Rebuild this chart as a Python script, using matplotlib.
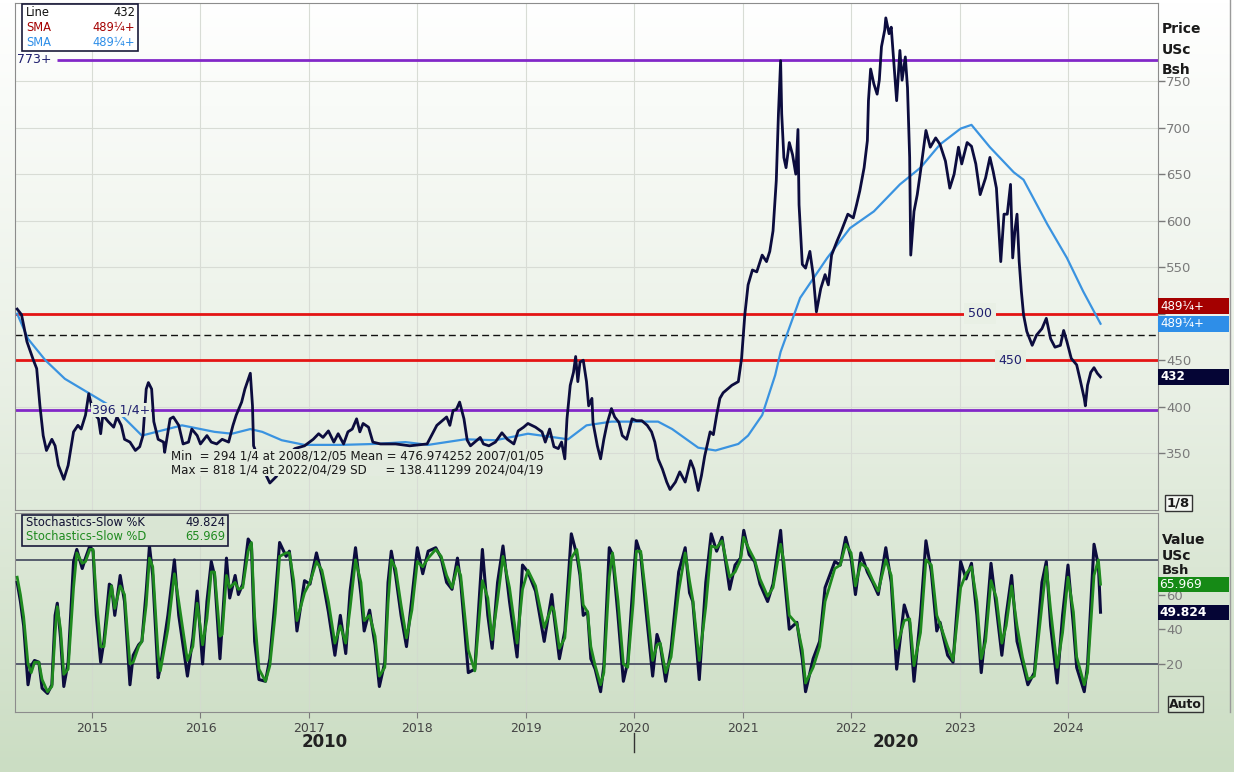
import numpy as np
import matplotlib.pyplot as plt
from matplotlib.colors import LinearSegmentedColormap
from matplotlib.patches import Rectangle
from matplotlib.lines import Line2D
import matplotlib.transforms as mtransforms

plt.rcParams['font.family'] = ['DejaVu Sans']

# %% data (decimal years)
price_dates = [2014.31, 2014.35, 2014.40, 2014.46, 2014.49, 2014.52, 2014.55, 2014.58, 2014.63, 2014.66,
               2014.69, 2014.74, 2014.78, 2014.83, 2014.87, 2014.90, 2014.94, 2014.97, 2015.01, 2015.06,
               2015.08, 2015.10, 2015.15, 2015.20, 2015.23, 2015.27, 2015.30, 2015.35, 2015.40, 2015.44,
               2015.47, 2015.50, 2015.52, 2015.55, 2015.57, 2015.61, 2015.66, 2015.67, 2015.72, 2015.75,
               2015.80, 2015.84, 2015.89, 2015.92, 2015.97, 2016.00, 2016.06, 2016.10, 2016.15, 2016.20,
               2016.26, 2016.30, 2016.33, 2016.38, 2016.41, 2016.46, 2016.48, 2016.49, 2016.57, 2016.64,
               2016.70, 2016.78, 2016.87, 2016.96, 2017.04, 2017.09, 2017.13, 2017.18, 2017.23, 2017.27,
               2017.32, 2017.36, 2017.40, 2017.44, 2017.47, 2017.50, 2017.55, 2017.59, 2017.66, 2017.80,
               2017.93, 2018.09, 2018.13, 2018.18, 2018.23, 2018.27, 2018.30, 2018.33, 2018.36, 2018.39,
               2018.43, 2018.46, 2018.49, 2018.53, 2018.58, 2018.61, 2018.66, 2018.72, 2018.78, 2018.83,
               2018.89, 2018.93, 2018.98, 2019.02, 2019.09, 2019.15, 2019.18, 2019.22, 2019.26, 2019.30,
               2019.33, 2019.36, 2019.38, 2019.41, 2019.44, 2019.46, 2019.48, 2019.50, 2019.53, 2019.56,
               2019.58, 2019.61, 2019.62, 2019.66, 2019.69, 2019.72, 2019.75, 2019.79, 2019.82, 2019.86,
               2019.89, 2019.93, 2019.98, 2020.02, 2020.07, 2020.12, 2020.16, 2020.19, 2020.22, 2020.26,
               2020.30, 2020.33, 2020.38, 2020.42, 2020.47, 2020.52, 2020.55, 2020.59, 2020.62, 2020.65,
               2020.70, 2020.73, 2020.76, 2020.79, 2020.82, 2020.90, 2020.96, 2020.99, 2021.02, 2021.05,
               2021.09, 2021.13, 2021.18, 2021.22, 2021.25, 2021.28, 2021.31, 2021.33, 2021.35, 2021.36,
               2021.38, 2021.40, 2021.43, 2021.46, 2021.49, 2021.51, 2021.52, 2021.55, 2021.58, 2021.62,
               2021.65, 2021.68, 2021.72, 2021.76, 2021.79, 2021.82, 2021.87, 2021.91, 2021.97, 2022.02,
               2022.05, 2022.08, 2022.12, 2022.15, 2022.16, 2022.18, 2022.21, 2022.24, 2022.26, 2022.28,
               2022.31, 2022.32, 2022.35, 2022.37, 2022.39, 2022.42, 2022.45, 2022.47, 2022.50, 2022.52,
               2022.54, 2022.55, 2022.58, 2022.61, 2022.64, 2022.67, 2022.69, 2022.73, 2022.78, 2022.82,
               2022.87, 2022.91, 2022.95, 2022.99, 2023.02, 2023.07, 2023.11, 2023.15, 2023.19, 2023.24,
               2023.28, 2023.31, 2023.34, 2023.38, 2023.41, 2023.44, 2023.47, 2023.49, 2023.51, 2023.53,
               2023.55, 2023.57, 2023.59, 2023.62, 2023.67, 2023.71, 2023.76, 2023.80, 2023.84, 2023.88,
               2023.93, 2023.96, 2023.99, 2024.03, 2024.08, 2024.11, 2024.15, 2024.16, 2024.18, 2024.21,
               2024.24, 2024.27, 2024.30]
price_vals = [505, 499, 470, 450, 441, 401, 369, 353, 365, 358,
              337, 322, 337, 373, 380, 376, 391, 414, 394, 387,
              371, 391, 384, 378, 389, 380, 365, 362, 353, 357,
              369, 419, 426, 419, 384, 365, 362, 351, 387, 389,
              380, 360, 362, 376, 369, 360, 369, 362, 360, 365,
              362, 380, 391, 405, 419, 436, 401, 358, 335, 318,
              325, 345, 355, 358, 365, 371, 367, 374, 362, 371,
              360, 373, 376, 387, 373, 382, 378, 362, 360, 360,
              358, 360, 369, 380, 385, 389, 380, 396, 397, 405,
              387, 364, 358, 362, 367, 360, 358, 362, 372, 365,
              360, 374, 378, 382, 378, 373, 362, 376, 357, 355,
              362, 344, 387, 423, 437, 454, 427, 448, 450, 427,
              401, 409, 383, 358, 344, 365, 382, 398, 389, 383,
              369, 365, 387, 385, 385, 380, 373, 362, 344, 333,
              319, 311, 319, 330, 319, 342, 333, 310, 326, 347,
              373, 370, 391, 409, 415, 423, 427, 452, 499, 531,
              547, 545, 563, 556, 567, 589, 643, 715, 772, 715,
              668, 657, 684, 671, 650, 698, 617, 553, 549, 567,
              542, 502, 527, 542, 531, 563, 578, 589, 607, 603,
              617, 632, 657, 686, 729, 763, 747, 736, 751, 787,
              805, 818, 801, 808, 776, 729, 783, 751, 776, 743,
              668, 563, 610, 628, 653, 679, 697, 679, 689, 682,
              664, 635, 650, 679, 661, 684, 680, 661, 628, 646,
              668, 653, 635, 556, 607, 607, 639, 560, 589, 607,
              556, 524, 499, 481, 466, 477, 484, 495, 473, 464,
              466, 482, 470, 452, 445, 430, 409, 401, 423, 437,
              442, 436, 432]

sma_dates = [2014.31, 2014.41, 2014.57, 2014.75, 2014.98, 2015.21, 2015.46, 2015.83, 2016.13, 2016.29,
             2016.46, 2016.57, 2016.75, 2016.96, 2017.30, 2017.61, 2017.89, 2018.10, 2018.44, 2018.72,
             2019.02, 2019.27, 2019.39, 2019.56, 2019.79, 2020.22, 2020.35, 2020.59, 2020.75, 2020.96,
             2021.05, 2021.18, 2021.30, 2021.35, 2021.53, 2021.78, 2021.99, 2022.21, 2022.45, 2022.64,
             2022.82, 2023.01, 2023.11, 2023.28, 2023.50, 2023.59, 2023.81, 2023.99, 2024.14, 2024.30]
sma_vals = [500, 473, 450, 430, 414, 398, 369, 380, 373, 371,
            376, 373, 364, 359, 359, 360, 362, 359, 365, 364,
            371, 367, 365, 380, 384, 384, 376, 356, 353, 360,
            369, 391, 434, 459, 517, 560, 592, 610, 639, 657,
            682, 699, 703, 679, 652, 644, 596, 560, 524, 489.25]

stoch_dates = [2014.31, 2014.34, 2014.37, 2014.41, 2014.44, 2014.47, 2014.51, 2014.54, 2014.59, 2014.63,
               2014.66, 2014.68, 2014.71, 2014.74, 2014.78, 2014.83, 2014.86, 2014.91, 2014.94, 2014.98,
               2015.01, 2015.04, 2015.08, 2015.11, 2015.16, 2015.18, 2015.21, 2015.26, 2015.30, 2015.35,
               2015.38, 2015.43, 2015.46, 2015.50, 2015.53, 2015.56, 2015.61, 2015.63, 2015.70, 2015.76,
               2015.80, 2015.88, 2015.93, 2015.97, 2016.02, 2016.06, 2016.10, 2016.13, 2016.18, 2016.20,
               2016.24, 2016.27, 2016.32, 2016.35, 2016.39, 2016.44, 2016.47, 2016.50, 2016.54, 2016.60,
               2016.64, 2016.69, 2016.73, 2016.79, 2016.82, 2016.86, 2016.89, 2016.96, 2017.01, 2017.07,
               2017.12, 2017.18, 2017.24, 2017.29, 2017.34, 2017.38, 2017.43, 2017.48, 2017.51, 2017.56,
               2017.61, 2017.65, 2017.70, 2017.73, 2017.76, 2017.80, 2017.85, 2017.90, 2017.95, 2018.00,
               2018.05, 2018.10, 2018.17, 2018.22, 2018.27, 2018.32, 2018.37, 2018.40, 2018.47, 2018.53,
               2018.60, 2018.65, 2018.69, 2018.74, 2018.79, 2018.85, 2018.92, 2018.97, 2019.02, 2019.09,
               2019.17, 2019.24, 2019.26, 2019.31, 2019.36, 2019.42, 2019.47, 2019.50, 2019.53, 2019.57,
               2019.60, 2019.64, 2019.69, 2019.72, 2019.77, 2019.80, 2019.85, 2019.90, 2019.94, 2019.99,
               2020.02, 2020.06, 2020.11, 2020.17, 2020.21, 2020.24, 2020.29, 2020.34, 2020.41, 2020.47,
               2020.51, 2020.54, 2020.60, 2020.66, 2020.71, 2020.76, 2020.81, 2020.88, 2020.93, 2020.98,
               2021.01, 2021.06, 2021.11, 2021.16, 2021.23, 2021.28, 2021.35, 2021.38, 2021.43, 2021.50,
               2021.55, 2021.58, 2021.65, 2021.71, 2021.76, 2021.85, 2021.90, 2021.95, 2022.00, 2022.04,
               2022.09, 2022.15, 2022.20, 2022.25, 2022.32, 2022.37, 2022.42, 2022.49, 2022.54, 2022.58,
               2022.64, 2022.69, 2022.74, 2022.79, 2022.82, 2022.89, 2022.94, 2023.01, 2023.06, 2023.11,
               2023.16, 2023.20, 2023.24, 2023.29, 2023.34, 2023.39, 2023.43, 2023.48, 2023.53, 2023.58,
               2023.63, 2023.69, 2023.76, 2023.80, 2023.84, 2023.90, 2023.95, 2024.00, 2024.05, 2024.08,
               2024.15, 2024.18, 2024.24, 2024.28, 2024.30]
stoch_k = [67, 56, 42, 8, 19, 22, 21, 6, 3, 8,
           48, 55, 35, 7, 21, 79, 86, 75, 81, 88,
           85, 48, 21, 33, 66, 65, 48, 71, 56, 8,
           25, 31, 33, 62, 88, 71, 12, 18, 48, 80,
           48, 13, 35, 62, 20, 56, 79, 71, 23, 42,
           81, 58, 71, 60, 66, 92, 89, 33, 11, 10,
           23, 58, 90, 82, 85, 62, 39, 68, 66, 84,
           71, 50, 25, 48, 26, 62, 87, 60, 39, 51,
           31, 7, 21, 67, 85, 71, 48, 30, 58, 87,
           72, 85, 87, 81, 67, 63, 81, 67, 15, 17,
           86, 48, 29, 67, 88, 56, 24, 77, 73, 62,
           33, 60, 48, 23, 39, 95, 83, 71, 48, 50,
           23, 17, 4, 19, 87, 83, 48, 10, 21, 67,
           91, 83, 50, 13, 37, 31, 10, 29, 73, 87,
           61, 56, 11, 67, 95, 85, 93, 63, 77, 81,
           97, 83, 79, 66, 56, 66, 97, 73, 40, 44,
           23, 4, 23, 33, 64, 79, 77, 93, 81, 60,
           84, 73, 67, 60, 87, 67, 17, 54, 44, 10,
           48, 91, 73, 39, 44, 25, 21, 79, 69, 78,
           48, 15, 39, 78, 52, 25, 48, 71, 33, 21,
           8, 15, 67, 79, 42, 9, 48, 77, 42, 18,
           4, 19, 89, 77, 49.824]
stoch_d = [70, 60, 47, 20, 15, 21, 21, 11, 4, 7,
           38, 53, 40, 14, 17, 64, 84, 78, 79, 86,
           86, 58, 30, 30, 58, 65, 52, 65, 60, 20,
           21, 30, 33, 54, 81, 76, 25, 16, 40, 72,
           56, 22, 30, 55, 31, 46, 73, 73, 36, 37,
           71, 64, 67, 63, 64, 85, 90, 47, 17, 10,
           19, 49, 82, 84, 84, 68, 45, 61, 67, 79,
           74, 56, 32, 42, 32, 52, 80, 67, 45, 48,
           36, 13, 18, 55, 80, 75, 54, 35, 51, 79,
           76, 81, 86, 82, 71, 64, 76, 71, 28, 16,
           68, 58, 34, 57, 82, 64, 32, 63, 74, 65,
           41, 53, 51, 29, 35, 81, 86, 74, 54, 50,
           30, 19, 8, 15, 70, 84, 57, 20, 18, 55,
           85, 85, 58, 22, 31, 32, 15, 24, 62, 84,
           68, 57, 22, 53, 88, 87, 91, 70, 73, 80,
           93, 86, 80, 69, 59, 64, 89, 79, 48, 43,
           28, 9, 18, 30, 56, 75, 77, 89, 84, 65,
           78, 75, 68, 62, 80, 71, 29, 45, 46, 19,
           38, 80, 77, 48, 43, 30, 22, 64, 72, 76,
           56, 23, 33, 68, 58, 32, 42, 65, 42, 24,
           11, 13, 54, 76, 51, 18, 38, 70, 50, 24,
           8, 15, 71, 80, 65.969]

year_ticks = list(range(2015, 2025))
price_ticks = [350, 400, 450, 500, 550, 600, 650, 700, 750]
price_ticklabels = ['350', '400', '450', '', '550', '600', '650', '700', '750']
stoch_ticks = [20, 40, 60]
red_levels = [500, 450]
purple_levels = [773.0, 396.25]
purple_labels = ['773+', '396 1/4+']
mean_level = 476.974252
last_price = 432
last_sma = 489.25
stats_lines = ['Min  = 294 1/4 at 2008/12/05 Mean = 476.974252 2007/01/05',
               'Max = 818 1/4 at 2022/04/29 SD     = 138.411299 2024/04/19']

W, H = 1234, 772
navy = '#0c0c3e'
smablue = '#3a93e0'
darkred = '#a40000'
green = '#1f8a1f'
purple = '#8228c8'
red = '#e41414'

fig = plt.figure(figsize=(W / 100, H / 100), dpi=100)

# background gradient
bg = fig.add_axes([0, 0, 1, 1], zorder=-10)
grad = np.linspace(0, 1, 256).reshape(-1, 1)
cmap = LinearSegmentedColormap.from_list('bg', ['#ffffff', '#e9f0e5', '#cbddc3'])
bg.imshow(grad, aspect='auto', cmap=cmap, extent=[0, 1, 0, 1], origin='upper')
bg.axis('off')


def fig_rect(x0, y0, x1, y1, **kw):
    r = Rectangle((x0 / W, 1 - y1 / H), (x1 - x0) / W, (y1 - y0) / H,
                  transform=fig.transFigure, **kw)
    fig.add_artist(r)
    return r


def fig_text(x, y, s, **kw):
    return fig.text(x / W, 1 - y / H, s, **kw)


# %% price panel
ax = fig.add_axes([15 / W, 1 - 510 / H, 1143 / W, 507 / H])
ax.patch.set_alpha(0)
ax.set_xlim(2014.29, 2024.83)
ax.set_ylim(289, 834)
ax.set_xticks(year_ticks)
ax.set_xticklabels([])
ax.tick_params(axis='x', length=0)
ax.yaxis.tick_right()
ax.set_yticks(price_ticks)
ax.set_yticklabels(price_ticklabels)
ax.tick_params(axis='y', colors='#7a7a7a', labelsize=9.5, length=5, width=1, pad=1)
ax.grid(True, color='#d8dcd5', lw=0.8)
for s in ax.spines.values():
    s.set_color('#8c8c8c')

for lv in red_levels:
    ax.axhline(lv, color=red, lw=2, zorder=2)
ax.axhline(mean_level, color='#111111', lw=1, ls=(0, (5, 3)), zorder=2)
ax.hlines(purple_levels[0], 2014.68, 2024.83, color=purple, lw=2, zorder=2)
ax.axhline(purple_levels[1], color=purple, lw=2, zorder=2)

ax.plot(sma_dates, sma_vals, color=smablue, lw=1.6, zorder=3)
ax.plot(price_dates, price_vals, color=navy, lw=2, zorder=4)

ax.text(2014.31, purple_levels[0], purple_labels[0], color='#1e1e6e', fontsize=9,
        va='center', ha='left', zorder=5)
ax.text(2015.0, purple_levels[1], purple_labels[1], color='#1e1e6e', fontsize=9,
        va='center', ha='left', zorder=5,
        bbox=dict(boxstyle='square,pad=0.05', fc='#e6eee2', ec='none'))
ax.text(2023.19, 500, '500', color='#1e1e6e', fontsize=9, va='center', ha='center', zorder=5,
        bbox=dict(boxstyle='square,pad=0.3', fc='#e9f0e5', ec='none'))
ax.text(2023.47, 450, '450', color='#1e1e6e', fontsize=9, va='center', ha='center', zorder=5,
        bbox=dict(boxstyle='square,pad=0.3', fc='#e6eee2', ec='none'))

ax.text(2015.73, 340, stats_lines[0] + '\n' + stats_lines[1], color='#1a1a1a', fontsize=8.6,
        va='center', ha='left', zorder=6, linespacing=1.1,
        bbox=dict(boxstyle='square,pad=0.0', fc='#e3ebdf', ec='none'))

# right side value boxes
bt = mtransforms.blended_transform_factory(ax.transAxes, ax.transData)
boxes = [(last_sma + 19, '489¼+', darkred, '#ffffff', 'normal'),
         (last_sma, '489¼+', '#2e8ee8', '#ffffff', 'normal'),
         (last_price, '432', '#050535', '#ffffff', 'bold')]
for yv, lab, fc, tc, fw in boxes:
    ax.add_patch(Rectangle((1.0, yv - 8.8), 0.062, 17.6, transform=bt, fc=fc, ec='none',
                           clip_on=False, zorder=6))
    ax.text(1.002, yv, lab, transform=bt, color=tc, fontsize=8.6, fontweight=fw,
            va='center', ha='left', zorder=7, clip_on=False)

fig_text(1162, 29, 'Price', fontsize=10, fontweight='bold', color='#1a1a1a', va='center')
fig_text(1162, 50, 'USc', fontsize=10, fontweight='bold', color='#1a1a1a', va='center')
fig_text(1162, 70, 'Bsh', fontsize=10, fontweight='bold', color='#1a1a1a', va='center')
fig_text(1167, 503, '1/8', fontsize=9.5, fontweight='bold', color='#1a1a1a', va='center',
         bbox=dict(boxstyle='square,pad=0.15', fc='#f4f7f2', ec='#333333', lw=1))

# legend top-left
fig_rect(22, 4, 138, 51, fc='#ffffff', ec='#1a1a3a', lw=1.2, zorder=10)
leg_rows = [('Line', '432', '#111111'), ('SMA', '489¼+', darkred), ('SMA', '489¼+', '#2e8ee8')]
for i, (a, b, c) in enumerate(leg_rows):
    fig_text(26, 13 + i * 14.5, a, fontsize=8.3, color=c, va='center', zorder=11)
    fig_text(135, 13 + i * 14.5, b, fontsize=8.3, color=c, va='center', ha='right', zorder=11)

# %% stochastics panel
ax2 = fig.add_axes([15 / W, 1 - 712 / H, 1143 / W, 199 / H])
ax2.patch.set_alpha(0)
ax2.set_xlim(2014.29, 2024.83)
ax2.set_ylim(-7.7, 107)
ax2.yaxis.tick_right()
ax2.set_yticks(stoch_ticks)
ax2.tick_params(axis='y', colors='#7a7a7a', labelsize=9.5, length=5, width=1, pad=1)
ax2.set_xticks(year_ticks)
ax2.set_xticklabels([str(y) for y in year_ticks])
ax2.tick_params(axis='x', colors='#7a7a7a', labelcolor='#444444', labelsize=9, length=4, pad=3)
ax2.grid(True, axis='x', color='#d2dbcd', lw=0.8)
for s in ax2.spines.values():
    s.set_color('#8c8c8c')
for lv in [80, 20]:
    ax2.axhline(lv, color='#4d5366', lw=1.3, zorder=2)

ax2.plot(stoch_dates, stoch_k, color=navy, lw=2.2, zorder=3)
ax2.plot(stoch_dates, stoch_d, color=green, lw=2, zorder=4)

bt2 = mtransforms.blended_transform_factory(ax2.transAxes, ax2.transData)
for yv, lab, fc in [(stoch_d[-1], '65.969', '#168a16'), (stoch_k[-1], '49.824', '#050535')]:
    ax2.add_patch(Rectangle((1.0, yv - 4.4), 0.062, 8.8, transform=bt2, fc=fc, ec='none',
                            clip_on=False, zorder=6))
    ax2.text(1.001, yv, lab, transform=bt2, color='#ffffff', fontsize=8.8,
             fontweight='bold' if lab == '49.824' else 'normal',
             va='center', ha='left', zorder=7, clip_on=False)

fig_text(1162, 540, 'Value', fontsize=10, fontweight='bold', color='#1a1a1a', va='center')
fig_text(1162, 556, 'USc', fontsize=10, fontweight='bold', color='#1a1a1a', va='center')
fig_text(1162, 570, 'Bsh', fontsize=9.5, fontweight='bold', color='#1a1a1a', va='center')
fig_text(1169, 704, 'Auto', fontsize=9, fontweight='bold', color='#1a1a1a', va='center',
         bbox=dict(boxstyle='square,pad=0.12', fc='#dbe7d5', ec='#333333', lw=1))

fig_rect(22, 515, 228, 546, fc='#d9e5d3', ec='#1a1a3a', lw=1.2, zorder=10)
fig_text(26, 522, 'Stochastics-Slow %K', fontsize=8.3, color='#111133', va='center', zorder=11)
fig_text(225, 522, '49.824', fontsize=8.3, color='#111133', va='center', ha='right', zorder=11)
fig_text(26, 537, 'Stochastics-Slow %D', fontsize=8.3, color=green, va='center', zorder=11)
fig_text(225, 537, '65.969', fontsize=8.3, color=green, va='center', ha='right', zorder=11)

# decade labels under the axis
bx = mtransforms.blended_transform_factory(ax2.transData, fig.transFigure)
ax2.text((2014.29 + 2020) / 2, 1 - 742 / H, '2010', transform=bx, fontsize=12, fontweight='bold',
         color='#222222', ha='center', va='center', clip_on=False)
ax2.text((2020 + 2024.83) / 2, 1 - 742 / H, '2020', transform=bx, fontsize=12, fontweight='bold',
         color='#222222', ha='center', va='center', clip_on=False)
fig.add_artist(Line2D([2020, 2020], [1 - 733 / H, 1 - 752 / H], transform=bx, color='#333333', lw=1))

# right border
fig.add_artist(Line2D([1230 / W, 1230 / W], [1, 1 - 712 / H], transform=fig.transFigure,
                      color='#9a9a9a', lw=1))

plt.savefig('out.png', dpi=100)
